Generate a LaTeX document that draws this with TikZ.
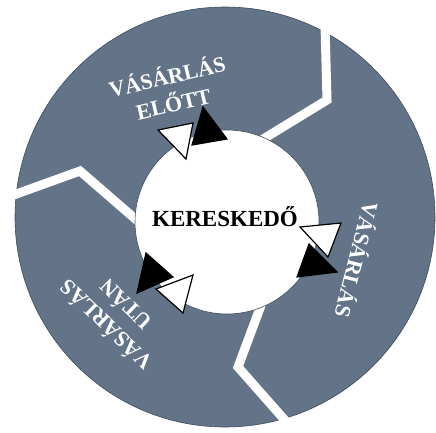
\documentclass[tikz,border=0pt]{standalone}
\usepackage{fontspec}
\setmainfont{Liberation Serif}
\definecolor{ring}{RGB}{99,116,136}
\definecolor{ringedge}{RGB}{62,76,94}
\begin{document}
\begin{tikzpicture}[x=1pt,y=-1pt,
  divider/.style={white, line width=9pt, line join=miter},
  stage/.style={text=white, font=\bfseries\fontsize{22}{28}\selectfont, align=center, inner sep=0pt},
  hub/.style={text=black, font=\bfseries\fontsize{23}{26}\selectfont, inner sep=0pt},
  hollowhead/.style={fill=white, draw=black, line width=1.2pt, line join=miter},
  solidhead/.style={fill=black, draw=black, line width=1.2pt, line join=miter}]
\useasboundingbox (0,0) rectangle (436,432);

% outer ring
\fill[ring] (225,217) circle[radius=210];
\draw[ringedge, line width=0.6pt] (225,217) circle[radius=210];

% white zigzag dividers between the three stages
\draw[divider] (260,141) -- (327,100) -- (325,25);
\draw[divider] (8,197) -- (80,171) -- (140,223);
\draw[divider] (266,292) -- (238,367) -- (290,426);

% centre disc
\fill[white] (227,222) circle[radius=92];
\draw[ringedge, line width=0.6pt] (227,222) circle[radius=92];

% labels
\node[hub, anchor=base] (hub) at (225,226) {KERESKEDŐ};
\node[stage, rotate=13] (before) at (170,89) {VÁSÁRLÁS\\ELŐTT};
\node[stage, rotate=-104.5] (during) at (358,260) {VÁSÁRLÁS};
\node[stage, rotate=136] (after) at (115,316) {VÁSÁRLÁS\\UTÁN};

% arrow heads round the centre disc
\draw[hollowhead] (158,130) -- (193,123) -- (186,159) -- cycle;
\draw[solidhead] (203,107) -- (227,139) -- (192,145) -- cycle;

\draw[hollowhead] (300,227) -- (341,223) -- (328,257) -- cycle;
\draw[solidhead] (309,244) -- (337,272) -- (297,277) -- cycle;

\draw[solidhead] (146,253) -- (173,277) -- (137,293) -- cycle;
\draw[hollowhead] (156,289) -- (193,275) -- (183,313) -- cycle;
\end{tikzpicture}
\end{document}
